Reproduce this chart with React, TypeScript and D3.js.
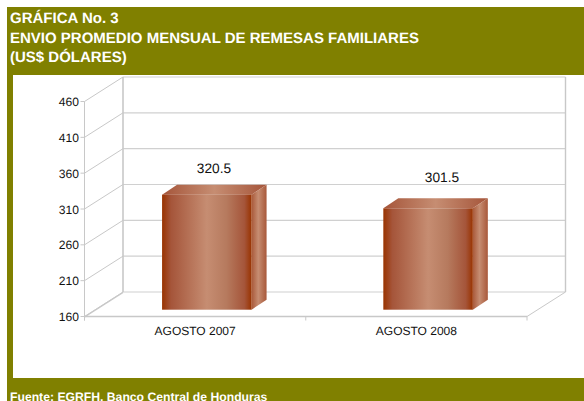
import React from "react";
import * as d3 from "d3";

const titleLines = ["GRÁFICA No. 3", "ENVIO PROMEDIO MENSUAL DE REMESAS FAMILIARES", "(US$ DÓLARES)"];
const source = "Fuente: EGRFH, Banco Central de Honduras";
const categories = ["AGOSTO 2007", "AGOSTO 2008"];
const values = [320.5, 301.5];
const labels = ["320.5", "301.5"];
const ticks = [160, 210, 260, 310, 360, 410, 460];

const OLIVE = "#808000";
const GRID = "#c8c8c8";
const dx = 38.5, dy = -24.5;
const y = d3.scaleLinear().domain([160, 460]).range([316.5, 101.5]);
const x = d3.scaleBand<string>().domain(categories).range([84.5, 527]);
const labelY = d3.scaleLinear().domain([301.5, 320.5]).range([181.5, 172.5]);
const labelX = d3.scaleLinear().domain([0, 1]).range([214, 442]);
const barW = 89.5, barOff = 11.7, bdx = 15, bdy = -10, floorY = -6.8;

export default function App() {
  const x0 = 84.5, x1 = 527;
  return (
    <svg width={584} height={401} textRendering="geometricPrecision" style={{ position: "fixed", left: 0, top: 0, display: "block", background: "#fff" }}>
      <defs>
        <linearGradient id="front" x1="0" x2="1" y1="0" y2="0">
          <stop offset="0" stopColor="#993300" />
          <stop offset="0.1" stopColor="#a5553a" />
          <stop offset="0.5" stopColor="#c68d72" />
          <stop offset="0.72" stopColor="#b67a5e" />
          <stop offset="0.92" stopColor="#a5553a" />
          <stop offset="1" stopColor="#993300" />
        </linearGradient>
        <linearGradient id="side" x1="0" x2="1" y1="0" y2="0">
          <stop offset="0" stopColor="#a9593a" />
          <stop offset="0.45" stopColor="#c68d72" />
          <stop offset="1" stopColor="#a8583a" />
        </linearGradient>
        <linearGradient id="top" x1="0" x2="1" y1="0" y2="0">
          <stop offset="0" stopColor="#a5553a" />
          <stop offset="0.5" stopColor="#c68d72" />
          <stop offset="1" stopColor="#a5553a" />
        </linearGradient>
      </defs>
      <rect x={7} y={7} width={577} height={394} fill={OLIVE} />
      <rect x={13} y={75} width={571} height={303} fill="#fff" />
      <g fontFamily="Liberation Sans, Arial, sans-serif" fontWeight="bold" fontSize={15} fill="#fff">
        {titleLines.map((t, i) => (
          <text key={t} x={10} y={23 + i * 19.5}>{t}</text>
        ))}
        <text x={10} y={401} fontSize={12.2}>{source}</text>
      </g>
      {/* walls and gridlines */}
      <g fill="none" stroke={GRID} strokeWidth={1}>
        {ticks.map((t) => (
          <g key={t}>
            <line x1={x0 + dx} x2={x1 + dx} y1={y(t) + dy} y2={y(t) + dy} strokeWidth={1.2} stroke="#d0d0d0" />
            <line x1={x0} x2={x0 + dx} y1={y(t)} y2={y(t) + dy} />
            <line x1={x0 - 4} x2={x0} y1={y(t)} y2={y(t)} />
          </g>
        ))}
        <line x1={x0} x2={x0} y1={y(460)} y2={y(160) + 4} />
        <line x1={x0 + dx} x2={x0 + dx} y1={y(460) + dy} y2={y(160) + dy} strokeWidth={1.6} />
        <line x1={x1 + dx} x2={x1 + dx} y1={y(460) + dy} y2={y(160) + dy} strokeWidth={1.4} />
        <line x1={x0} x2={x1} y1={y(160)} y2={y(160)} strokeWidth={1.4} />
        <line x1={x1} x2={x1 + dx} y1={y(160)} y2={y(160) + dy} />
        <line x1={x0} x2={x0 + dx} y1={y(160) + 0.5} y2={y(160) + dy + 0.5} strokeWidth={1.4} />
        {[x0, x0 + x.bandwidth(), x1].map((p) => (
          <line key={p} x1={p} x2={p} y1={y(160)} y2={y(160) + 4} />
        ))}
      </g>
      {/* bars */}
      {categories.map((c, i) => {
        const left = x(c)! + (x.bandwidth() - barW) / 2 + barOff;
        const right = left + barW;
        const top = y(values[i]) + floorY;
        const bottom = y(160) + floorY;
        return (
          <g key={c}>
            <polygon points={`${left},${top} ${left + bdx},${top + bdy} ${right + bdx},${top + bdy} ${right},${top}`} fill="url(#top)" />
            <polygon points={`${right},${top} ${right + bdx},${top + bdy} ${right + bdx},${bottom + bdy} ${right},${bottom}`} fill="url(#side)" />
            <rect x={left} y={top} width={barW} height={bottom - top} fill="url(#front)" />
          </g>
        );
      })}
      <g fontFamily="Liberation Sans, Arial, sans-serif" fill="#111">
        {ticks.map((t) => (
          <text key={t} x={79} y={y(t) + 4.5} textAnchor="end" fontSize={12.1}>{t}</text>
        ))}
        {categories.map((c) => (
          <text key={c} x={x(c)! + x.bandwidth() / 2} y={335} textAnchor="middle" fontSize={12}>{c}</text>
        ))}
        {categories.map((c, i) => (
          <text key={c} x={labelX(i)} y={labelY(values[i])} textAnchor="middle" fontSize={13.7}>{labels[i]}</text>
        ))}
      </g>
    </svg>
  );
}
